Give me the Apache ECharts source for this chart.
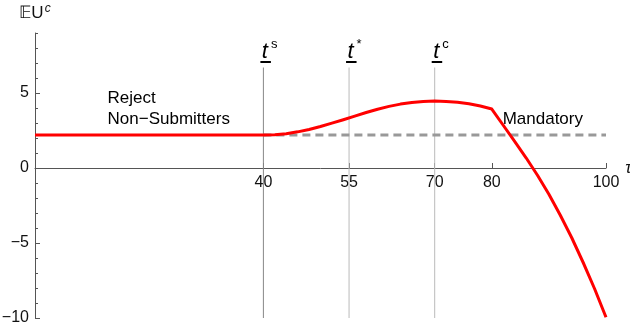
<!DOCTYPE html>
<html>
<head>
<meta charset="utf-8">
<script src="https://cdn.jsdelivr.net/npm/echarts@6/dist/echarts.min.js"></script>
<style>html,body{margin:0;padding:0;background:#fff}#c{width:630px;height:331px}</style>
</head>
<body>
<div id="c"></div>
<script>
// ---- data ----
var curveT = [0, 40, 42, 44, 46, 48, 50, 52, 54, 56, 58, 60, 62, 64, 66, 68, 70, 72, 74, 76, 78, 80, 82, 84, 86, 88, 90, 92, 94, 96, 98, 100];
var curveV = [2.2, 2.2, 2.22, 2.29, 2.41, 2.57, 2.77, 2.99, 3.22, 3.46, 3.70, 3.92, 4.11, 4.26, 4.37, 4.44, 4.46, 4.44, 4.38, 4.28, 4.13, 3.93, 2.85, 1.78, 0.68, -0.48, -1.75, -3.15, -4.65, -6.3, -8.05, -9.95];
var mandT = [40, 100];
var mandV = [2.2, 2.2];
var markerT = [40, 55, 70];
var markerSup = ['s', '*', 'c'];
var markerTop = 6.7;
var xTicks = [40, 55, 70, 80, 100];
var yTicks = [-10, -5, 0, 5];
var annoText = ['Reject', 'Non\u2212Submitters', 'Mandatory'];
var annoT = [12.7, 12.7, 81.9];
var annoV = [4.67, 3.27, 3.27];

var FONT = 'Liberation Sans, Arial, sans-serif';
function pairs(a, b) { return a.map(function (v, i) { return [v, b[i]]; }); }

var series = [];
markerT.forEach(function (t, i) {
  series.push({
    type: 'line', data: [[t, markerTop], [t, -10]], symbol: 'none', silent: true, z: 1,
    lineStyle: { color: i === 0 ? '#888' : '#bbb', width: 1 }
  });
});
series.push({
  type: 'line', data: pairs(mandT, mandV), symbol: 'none', z: 2,
  lineStyle: { color: '#999', width: 3, type: [8, 5] }
});
series.push({
  type: 'line', data: pairs(curveT, curveV), symbol: 'none', z: 3,
  lineStyle: { color: '#ff0000', width: 3, join: 'round' }
});
series.push({
  type: 'custom', coordinateSystem: 'cartesian2d', z: 4, silent: true,
  data: markerT.map(function (t) { return [t, markerTop]; }),
  renderItem: function (params, api) {
    var p = api.coord([api.value(0), api.value(1)]);
    return {
      type: 'group', children: [
        { type: 'text', x: p[0] + 1.5, y: p[1] - 16,
          style: { text: 't', font: 'italic 22px ' + FONT, fill: '#000', align: 'center', verticalAlign: 'middle' } },
        { type: 'rect', shape: { x: p[0] - 3, y: p[1] - 6.5, width: 10.5, height: 2 }, style: { fill: '#000' } },
        { type: 'text', x: p[0] + 7.5, y: p[1] - 23,
          style: { text: markerSup[params.dataIndex], font: '13px ' + FONT, fill: '#000', align: 'left', verticalAlign: 'middle' } }
      ]
    };
  }
});
series.push({
  type: 'custom', coordinateSystem: 'cartesian2d', z: 4, silent: true,
  data: pairs(annoT, annoV),
  renderItem: function (params, api) {
    var p = api.coord([api.value(0), api.value(1)]);
    return { type: 'text', x: p[0], y: p[1],
      style: { text: annoText[params.dataIndex], font: '17px ' + FONT, fill: '#000', align: 'left', verticalAlign: 'middle' } };
  }
});

var chart = echarts.init(document.getElementById('c'), null, { renderer: 'canvas' });
chart.setOption({
  animation: false,
  grid: { left: 35, right: 24, top: 33, bottom: 13, containLabel: false, outerBoundsMode: 'none' },
  xAxis: {
    type: 'value', min: 0, max: 100, position: 'bottom', offset: -150,
    axisLine: { onZero: false, lineStyle: { color: '#555', width: 1 } },
    axisTick: { show: true, inside: true, length: 5, customValues: xTicks, lineStyle: { color: '#555' } },
    axisLabel: { customValues: xTicks, margin: 7, color: '#111', fontSize: 16, fontFamily: FONT },
    splitLine: { show: false },
    name: '\u03c4', nameLocation: 'end', nameGap: 15,
    nameTextStyle: { fontStyle: 'italic', fontSize: 17, fontFamily: FONT, color: '#111' }
  },
  yAxis: [{
    type: 'value', min: -10, max: 9, interval: 1,
    axisLine: { show: true, onZero: false, lineStyle: { color: '#555', width: 1 } },
    axisTick: { show: true, inside: true, length: 3, lineStyle: { color: '#555' } },
    axisLabel: { customValues: yTicks, margin: 6, color: '#111', fontSize: 16, fontFamily: FONT,
      formatter: function (v) { return v < 0 ? '\u2212' + Math.abs(v) : String(v); } },
    splitLine: { show: false },
    name: '{e|\ud835\udd3cU}{s|c}', nameLocation: 'end', nameGap: 10,
    nameTextStyle: {
      rich: {
        e: { fontSize: 17, fontFamily: FONT, color: '#111' },
        s: { fontSize: 12, fontStyle: 'italic', fontFamily: FONT, color: '#111', verticalAlign: 'top', padding: [0, 0, 8, 1] }
      }
    }
  }, {
    type: 'value', min: -10, max: 9, position: 'left', offset: 0,
    axisLine: { show: false },
    axisTick: { show: true, inside: true, length: 5, customValues: yTicks, lineStyle: { color: '#555' } },
    axisLabel: { show: false },
    splitLine: { show: false }
  }],
  series: series
});
</script>
</body>
</html>
